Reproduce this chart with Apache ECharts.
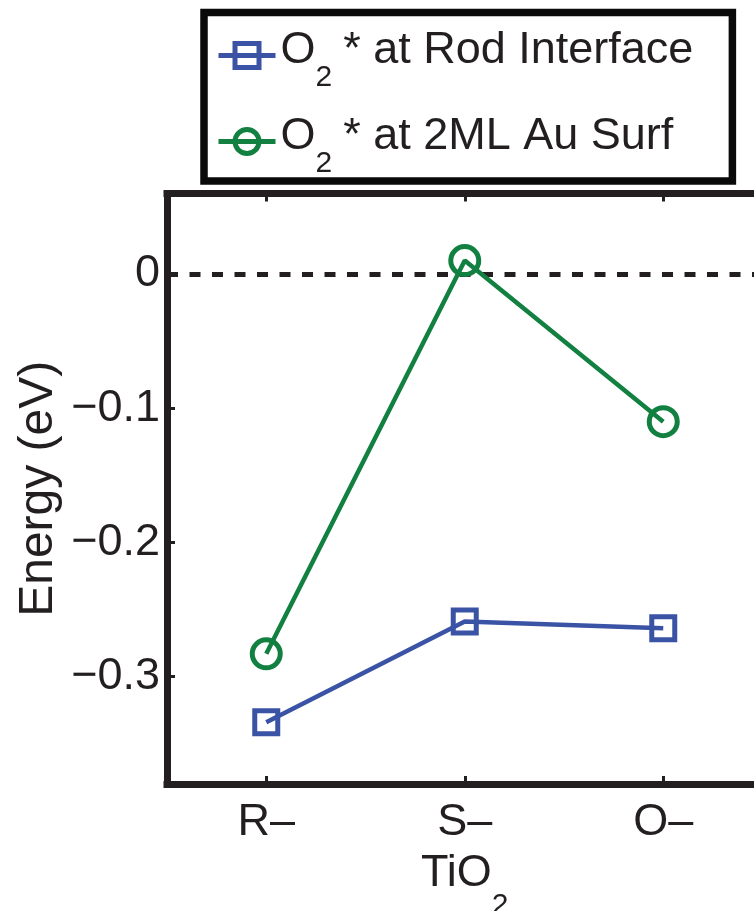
<!DOCTYPE html>
<html>
<head>
<meta charset="utf-8">
<script src="https://cdn.jsdelivr.net/npm/echarts@6/dist/echarts.min.js"></script>
<style>
  html, body { margin: 0; padding: 0; background: #ffffff; }
  #chart { width: 754px; height: 911px; }
</style>
</head>
<body>
<div id="chart"></div>
<script>
// O2* adsorption energy on three TiO2 supports
const categories = ['R–', 'S–', 'O–'];
const rodInterface = [-0.334, -0.259, -0.264];
const auSurface = [-0.283, 0.010, -0.110];
const seriesNames = ['O2* at Rod Interface', 'O2* at 2ML Au Surf'];
const yTicks = [-0.3, -0.2, -0.1, 0];
const yTickLabels = ['−0.3', '−0.2', '−0.1', '0'];
const referenceLevel = 0;

const INK = '#231f20';
const BLUE = '#3a53a4';
const GREEN = '#128040';
const FONT = '"Liberation Sans", Arial, Helvetica, sans-serif';

// Rich-text styles for chemistry labels: main text, asterisk and a lowered smaller "2"
function chemRich(mainTop, mainLine, subPad) {
  return {
    m: { fontSize: 45, fontFamily: FONT, color: INK, lineHeight: mainLine, verticalAlign: 'top', padding: [mainTop, 0, 0, 0] },
    a: { fontSize: 45, fontFamily: FONT, color: INK, lineHeight: mainLine, verticalAlign: 'top', padding: [mainTop, 0, 0, 11] },
    s: { fontSize: 30, fontFamily: FONT, color: INK, verticalAlign: 'top', padding: [subPad, 0, 0, 0] }
  };
}

const chart = echarts.init(document.getElementById('chart'), null, { renderer: 'canvas' });

const lineCommon = {
  type: 'line',
  symbolKeepAspect: true,
  emphasis: { disabled: true },
  z: 3
};

chart.setOption({
  animation: false,
  backgroundColor: '#ffffff',
  grid: {
    left: 167,
    top: 193.5,
    width: 595.5,
    height: 590.5,
    containLabel: false,
    outerBoundsMode: 'none'
  },
  legend: {
    orient: 'vertical',
    left: 204,
    top: 12.5,
    padding: [5.8, 39, 2.3, 12],
    itemGap: 11.6,
    itemWidth: 57,
    itemHeight: 30,
    borderColor: '#0a0a0a',
    borderWidth: 7.5,
    backgroundColor: '#ffffff',
    selectedMode: false,
    data: seriesNames,
    lineStyle: { width: 5 },
    itemStyle: { borderWidth: 5 },
    formatter: function (name) {
      const rest = name.replace('O2*', '');
      return '{m|O}{s|2}{a|*}{m|' + rest + '}';
    },
    textStyle: {
      fontSize: 45,
      fontFamily: FONT,
      color: INK,
      rich: chemRich(10.2, 50, 44.4)
    }
  },
  xAxis: [
    {
      type: 'category',
      data: categories,
      position: 'bottom',
      boundaryGap: true,
      name: '{m|TiO}{s|2}',
      nameLocation: 'middle',
      nameGap: 67,
      nameMoveOverlap: false,
      nameTextStyle: { rich: chemRich(0, 52, 40) },
      axisLine: { show: true, onZero: false, lineStyle: { color: INK, width: 7, cap: 'square' } },
      axisTick: { show: true, inside: true, alignWithLabel: true, length: 8, lineStyle: { color: INK, width: 3 } },
      axisLabel: { show: true, margin: 16, fontSize: 45, fontFamily: FONT, color: INK },
      splitLine: { show: false }
    },
    {
      type: 'category',
      data: categories,
      position: 'top',
      boundaryGap: true,
      axisLine: { show: true, onZero: false, lineStyle: { color: INK, width: 7, cap: 'square' } },
      axisTick: { show: true, inside: true, alignWithLabel: true, length: 8, lineStyle: { color: INK, width: 3 } },
      axisLabel: { show: false },
      splitLine: { show: false }
    }
  ],
  yAxis: {
    type: 'value',
    min: -0.38,
    max: 0.06,
    name: 'Energy (eV)',
    nameLocation: 'middle',
    nameRotate: 90,
    nameGap: 104,
    nameMoveOverlap: false,
    nameTextStyle: { fontSize: 48, fontFamily: FONT, color: INK },
    axisLine: { show: true, onZero: false, lineStyle: { color: INK, width: 7, cap: 'square' } },
    axisTick: { show: true, inside: true, length: 8, customValues: yTicks, lineStyle: { color: INK, width: 3 } },
    axisLabel: {
      show: true,
      margin: 7,
      fontSize: 45,
      fontFamily: FONT,
      color: INK,
      customValues: yTicks,
      formatter: function (v) {
        const i = yTicks.findIndex(function (t) { return Math.abs(t - v) < 1e-9; });
        return i >= 0 ? yTickLabels[i] : '';
      }
    },
    splitLine: { show: false }
  },
  series: [
    Object.assign({}, lineCommon, {
      name: seriesNames[0],
      data: rodInterface,
      symbol: 'rect',
      symbolSize: 23,
      lineStyle: { color: BLUE, width: 4.5 },
      itemStyle: { color: 'rgba(255,255,255,0)', borderColor: BLUE, borderWidth: 5 },
      markLine: {
        silent: true,
        symbol: ['none', 'none'],
        label: { show: false },
        lineStyle: { color: INK, width: 5, type: [11, 11.5] },
        data: [{ yAxis: referenceLevel }],
        z: 1
      }
    }),
    Object.assign({}, lineCommon, {
      name: seriesNames[1],
      data: auSurface,
      symbol: 'circle',
      symbolSize: 28,
      lineStyle: { color: GREEN, width: 4.5 },
      itemStyle: { color: 'rgba(255,255,255,0)', borderColor: GREEN, borderWidth: 5 }
    })
  ]
});
</script>
</body>
</html>
